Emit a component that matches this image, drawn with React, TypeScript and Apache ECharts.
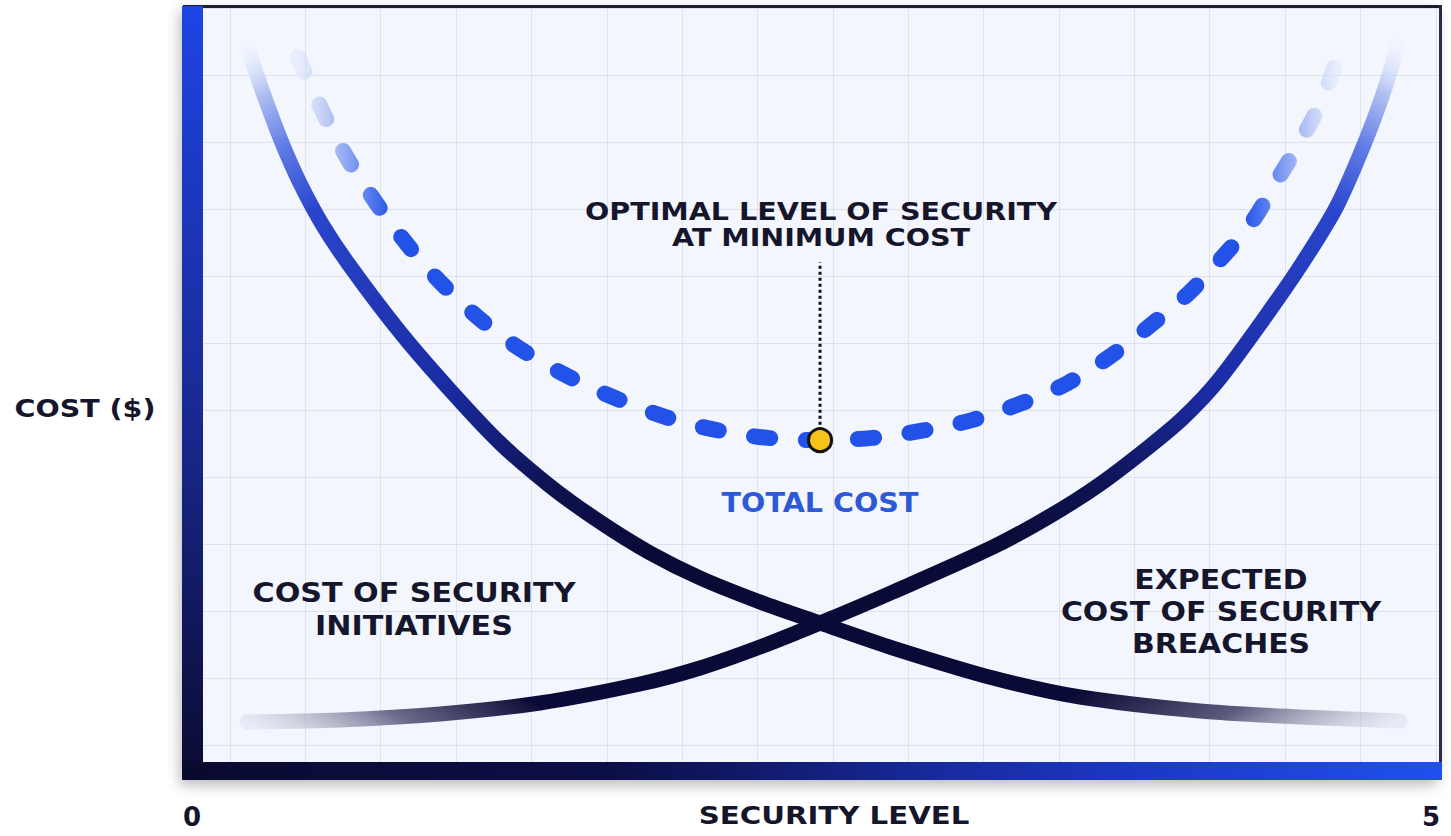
import React, { useEffect, useRef } from 'react';
import * as echarts from 'echarts';

// ---- data (x: security level 0..5, y: cost 0..100) ----
const xTicks = [0, 5];

const securityInitiatives: [number, number][] = [
  [0.255, 94.7], [0.326, 88.11], [0.394, 82.3], [0.465, 77.13], [0.553, 71.83],
  [0.664, 66.41], [0.863, 57.88], [1.062, 50.39], [1.261, 43.54], [1.46, 37.98],
  [1.659, 33.33], [1.858, 29.33], [2.057, 26.1], [2.295, 23.0], [2.534, 20.28],
  [2.824, 17.05], [3.222, 13.18], [3.568, 10.72], [4.045, 8.91], [4.443, 8.14],
  [4.841, 7.62],
];

const securityBreaches: [number, number][] = [
  [0.255, 7.49], [0.625, 7.75], [1.022, 8.53], [1.42, 9.95], [1.818, 12.4],
  [2.057, 14.47], [2.295, 17.18], [2.534, 20.28], [2.824, 24.29], [3.222, 30.1],
  [3.449, 34.11], [3.648, 38.24], [3.846, 43.15], [3.978, 46.77], [4.113, 51.42],
  [4.296, 59.43], [4.455, 66.93], [4.59, 74.16], [4.71, 83.07], [4.789, 90.18],
  [4.829, 94.83],
];

const totalCost: [number, number][] = [
  [0.457, 93.4], [0.533, 87.9], [0.617, 82.4], [0.712, 77.3], [0.823, 72.1],
  [0.943, 67.2], [1.074, 62.7], [1.221, 58.5], [1.38, 54.9], [1.559, 51.7],
  [1.738, 49.1], [1.929, 46.8], [2.124, 45.2], [2.327, 44.2], [2.534, 43.9],
  [2.741, 44.2], [2.951, 45.2], [3.138, 46.5], [3.337, 48.7], [3.52, 51.3],
  [3.695, 54.9], [3.858, 59.0], [3.994, 62.7], [4.125, 67.2], [4.252, 72.1],
  [4.352, 77.5], [4.443, 82.4], [4.531, 87.9], [4.594, 93.4],
];

const optimum: [number, number] = [2.534, 43.9];
const optimumLeader: [number, number][] = [[2.534, 45.9], [2.534, 66.9]];

const FONT = 'DejaVu Sans';
const INK = '#15152b';

function txt(text: string, x: number, y: number, size: number, fill: string, sx: number, lineHeight?: number) {
  return {
    type: 'text',
    x,
    y,
    scaleX: sx,
    z: 50,
    silent: true,
    style: {
      text,
      fill,
      fontFamily: FONT,
      fontWeight: 'bold',
      fontSize: size,
      lineHeight: lineHeight || Math.round(size * 1.2),
      textAlign: 'center',
      textVerticalAlign: 'middle',
      align: 'center',
      verticalAlign: 'middle',
    },
  };
}

export default function App() {
  const ref = useRef<HTMLDivElement>(null);
  useEffect(() => {
    const chart = echarts.init(ref.current!, null, { renderer: 'svg' });
    const option: any = {
      animation: false,
      backgroundColor: '#ffffff',
      grid: [
        { left: 183, right: 11, top: 6, bottom: 56, containLabel: false, outerBoundsMode: 'none' },
        { left: 230, right: 15.2, top: 8, bottom: 74, containLabel: false, outerBoundsMode: 'none' },
        { left: 203, right: 11, top: 8, bottom: 74, containLabel: false, outerBoundsMode: 'none' },
      ],
      xAxis: [
        {
          type: 'value', gridIndex: 0, min: 0, max: 5, interval: 5,
          axisLine: { show: false }, axisTick: { show: false }, splitLine: { show: false },
          axisLabel: {
            show: true, margin: 24, fontFamily: FONT, fontWeight: 'bold', fontSize: 26, color: INK,
            alignMinLabel: 'left', alignMaxLabel: 'right',
            formatter: (v: number) => (xTicks.includes(v) ? String(v) : ''),
          },
        },
        {
          type: 'value', gridIndex: 1, min: 0, max: 16, interval: 1,
          axisLine: { show: false }, axisTick: { show: false }, axisLabel: { show: false },
          splitLine: { show: true, lineStyle: { color: '#dce2ee', width: 1 } },
        },
        {
          type: 'value', gridIndex: 2, min: 0, max: 1,
          show: false, splitLine: { show: false },
        },
      ],
      yAxis: [
        {
          type: 'value', gridIndex: 0, min: 0, max: 100,
          axisLine: { show: false }, axisTick: { show: false }, axisLabel: { show: false },
          splitLine: { show: false },
        },
        {
          type: 'value', gridIndex: 1, min: 0, max: 1, show: false, splitLine: { show: false },
        },
        {
          type: 'value', gridIndex: 2, min: 0, max: 11.254, interval: 1, inverse: true,
          axisLine: { show: false }, axisTick: { show: false }, axisLabel: { show: false },
          splitLine: { show: true, lineStyle: { color: '#dce2ee', width: 1 } },
        },
      ],
      graphic: [
        {
          type: 'rect', z: -10, silent: true,
          shape: { x: 183, y: 6, width: 1257, height: 774 },
          style: { fill: '#f3f6fd', shadowBlur: 14, shadowColor: 'rgba(0,0,0,0.28)', shadowOffsetX: -3, shadowOffsetY: 5 },
        },
        { type: 'rect', z: 100, silent: true, shape: { x: 183, y: 5, width: 1259, height: 3 }, style: { fill: '#1c1c34' } },
        { type: 'rect', z: 100, silent: true, shape: { x: 1439, y: 5, width: 3, height: 775 }, style: { fill: '#2a2a44' } },
        {
          type: 'rect', z: 101, silent: true, shape: { x: 182, y: 6, width: 21, height: 774 },
          style: {
            fill: new echarts.graphic.LinearGradient(0, 0, 0, 1, [
              { offset: 0, color: '#1e44e4' },
              { offset: 0.5, color: '#1a2b98' },
              { offset: 1, color: '#0a0a30' },
            ]),
          },
        },
        {
          type: 'rect', z: 101, silent: true, shape: { x: 182, y: 762, width: 1260, height: 18 },
          style: {
            fill: new echarts.graphic.LinearGradient(0, 0, 1, 0, [
              { offset: 0, color: '#0a0a30' },
              { offset: 0.35, color: '#0c0f48' },
              { offset: 0.6, color: '#182a9e' },
              { offset: 0.8, color: '#1d3ccc' },
              { offset: 1, color: '#2050ee' },
            ]),
          },
        },
        txt('COST ($)', 85, 408, 25, INK, 1.14),
        txt('SECURITY LEVEL', 834, 815, 25, INK, 1.17),
        txt('OPTIMAL LEVEL OF SECURITY\nAT MINIMUM COST', 821, 225, 24, INK, 1.19, 26),
        txt('TOTAL COST', 820, 503, 27, '#2d58d6', 1.06),
        txt('COST OF SECURITY\nINITIATIVES', 414, 610, 26, INK, 1.16, 33),
        txt('EXPECTED\nCOST OF SECURITY\nBREACHES', 1221, 612, 26, INK, 1.15, 32),
      ],
      series: [
        {
          type: 'line', name: 'Cost of security initiatives', xAxisIndex: 0, yAxisIndex: 0,
          data: securityInitiatives, smooth: 0.3, showSymbol: false, silent: true, z: 3,
          lineStyle: {
            width: 15, cap: 'round',
            color: {
              type: 'linear', x: 0, y: 0, x2: 1, y2: 1,
              colorStops: [
                { offset: 0, color: 'rgba(235,240,255,0.3)' },
                { offset: 0.04, color: '#b4c2f2' },
                { offset: 0.09, color: '#5f7be6' },
                { offset: 0.15, color: '#2a45cc' },
                { offset: 0.34, color: '#1a2ba2' },
                { offset: 0.46, color: '#0e1250' },
                { offset: 0.55, color: '#0a0a36' },
                { offset: 0.84, color: '#0a0a36' },
                { offset: 0.92, color: '#5a5a7c' },
                { offset: 1, color: 'rgba(215,218,232,0.4)' },
              ],
            },
          },
        },
        {
          type: 'line', name: 'Expected cost of security breaches', xAxisIndex: 0, yAxisIndex: 0,
          data: securityBreaches, smooth: 0.3, showSymbol: false, silent: true, z: 3,
          lineStyle: {
            width: 15, cap: 'round',
            color: {
              type: 'linear', x: 0, y: 1, x2: 1, y2: 0,
              colorStops: [
                { offset: 0, color: 'rgba(215,218,232,0.4)' },
                { offset: 0.07, color: '#6a6a8a' },
                { offset: 0.14, color: '#0a0a36' },
                { offset: 0.45, color: '#0a0a36' },
                { offset: 0.54, color: '#0e1250' },
                { offset: 0.66, color: '#1a2ba2' },
                { offset: 0.85, color: '#2a45cc' },
                { offset: 0.91, color: '#5f7be6' },
                { offset: 0.96, color: '#b4c2f2' },
                { offset: 1, color: 'rgba(235,240,255,0.3)' },
              ],
            },
          },
        },
        {
          type: 'line', name: 'Total cost', xAxisIndex: 0, yAxisIndex: 0,
          data: totalCost, smooth: 0.35, showSymbol: false, silent: true, z: 4,
          lineStyle: {
            width: 16, cap: 'round', type: [16, 36], dashOffset: 0,
            color: {
              type: 'linear', x: 0, y: 0, x2: 1, y2: 0,
              colorStops: [
                { offset: 0, color: 'rgba(225,232,252,0.6)' },
                { offset: 0.03, color: '#b8c6f4' },
                { offset: 0.06, color: '#6f8ef0' },
                { offset: 0.09, color: '#2252e8' },
                { offset: 0.91, color: '#2252e8' },
                { offset: 0.94, color: '#6f8ef0' },
                { offset: 0.97, color: '#b8c6f4' },
                { offset: 1, color: 'rgba(225,232,252,0.6)' },
              ],
            },
          },
        },
        {
          type: 'line', name: 'leader', xAxisIndex: 0, yAxisIndex: 0,
          data: optimumLeader, showSymbol: false, silent: true, z: 5,
          lineStyle: { width: 3, color: '#111118', type: [3, 3] },
        },
        {
          type: 'scatter', name: 'Optimum', xAxisIndex: 0, yAxisIndex: 0,
          data: [optimum], symbol: 'circle', symbolSize: 23, silent: true, z: 6,
          itemStyle: { color: '#f7c318', borderColor: '#111111', borderWidth: 3, opacity: 1 },
        },
      ],
    };
    chart.setOption(option);
    return () => chart.dispose();
  }, []);
  return <div ref={ref} style={{ position: 'absolute', left: 0, top: 0, width: 1451, height: 836 }} />;
}
